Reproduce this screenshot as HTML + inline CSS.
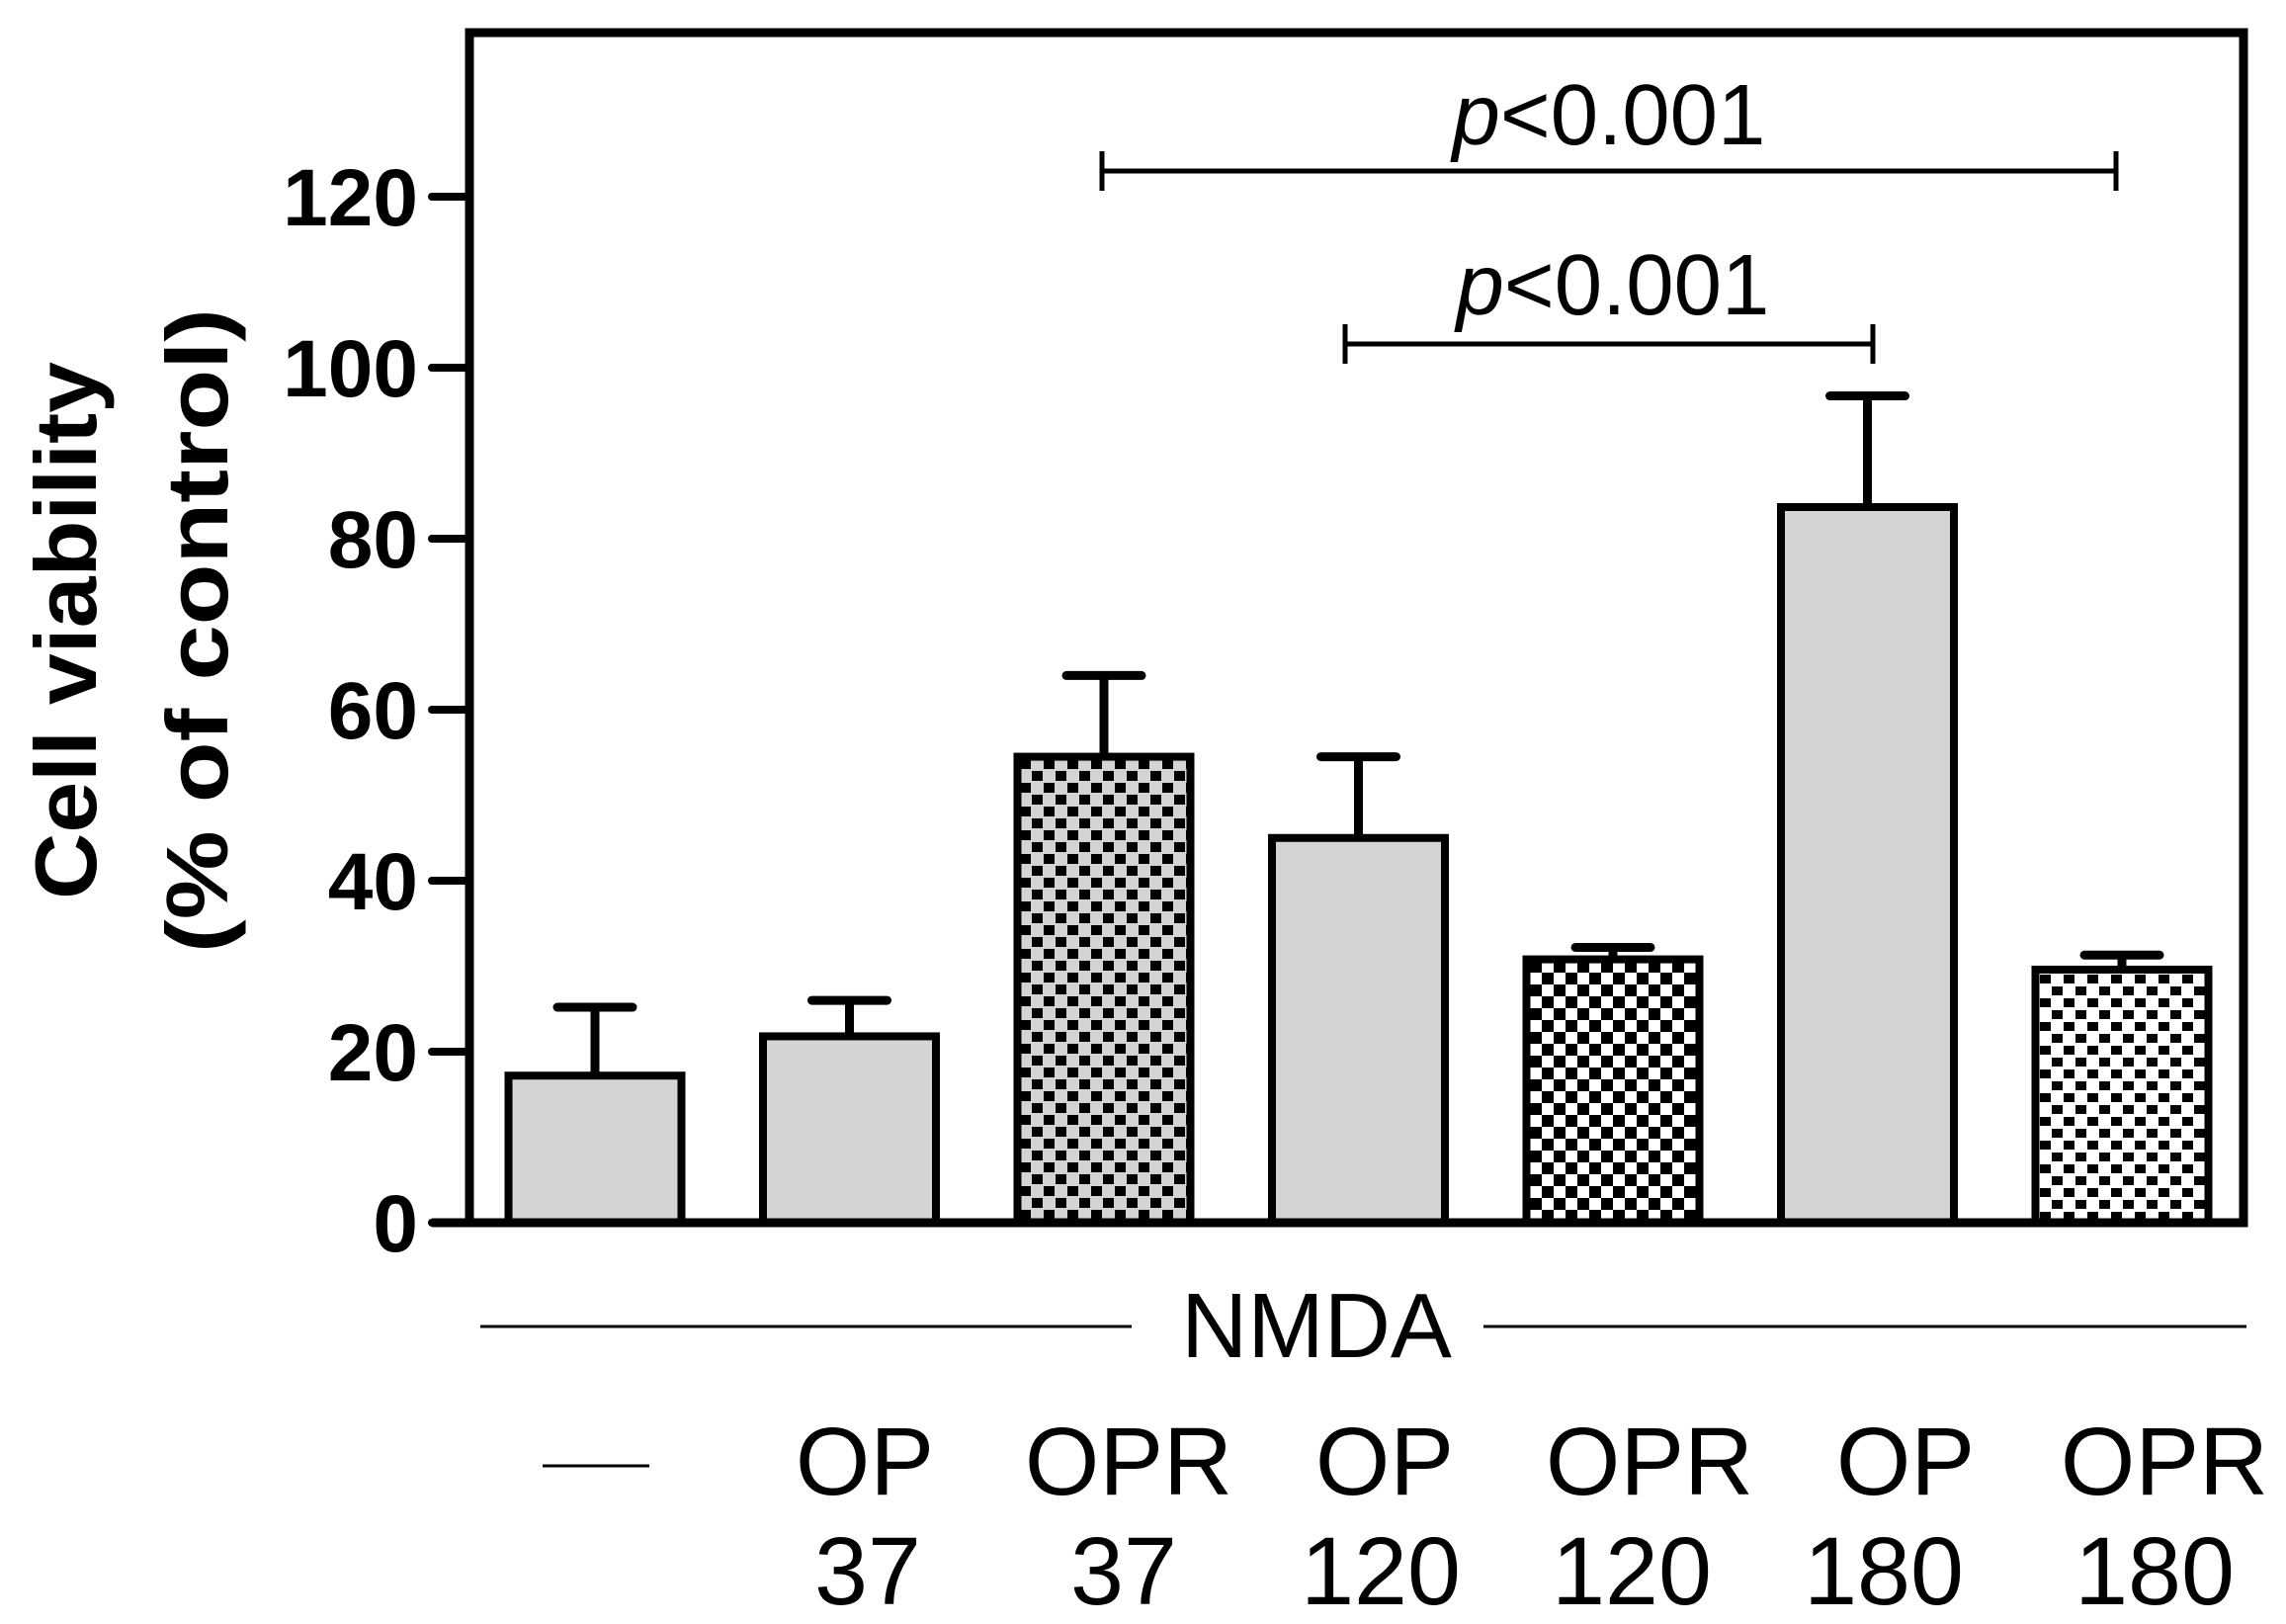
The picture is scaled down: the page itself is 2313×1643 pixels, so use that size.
<!DOCTYPE html>
<html><head><meta charset="utf-8"><style>
html,body{margin:0;padding:0;background:#fff}
svg{display:block}
</style></head><body>
<svg id="chart" width="2313" height="1643" viewBox="0 0 2313 1643" xmlns="http://www.w3.org/2000/svg" font-family="Liberation Sans, Arial, sans-serif">
<defs>
<pattern id="patA" width="24" height="24" patternUnits="userSpaceOnUse">
<rect width="24" height="24" fill="#d4d4d4"/>
<rect x="0" y="0" width="11" height="10" fill="#000"/>
<rect x="12" y="12" width="11" height="10" fill="#000"/>
</pattern>
<pattern id="patB" width="24" height="24" patternUnits="userSpaceOnUse">
<rect width="24" height="24" fill="#fff"/>
<rect x="0" y="0" width="12" height="12" fill="#000"/>
<rect x="12" y="12" width="12" height="12" fill="#000"/>
</pattern>
<pattern id="patC" width="24" height="24" patternUnits="userSpaceOnUse">
<rect width="24" height="24" fill="#fff"/>
<rect x="0" y="2" width="11" height="9" fill="#000"/>
<rect x="12" y="14" width="11" height="9" fill="#000"/>
</pattern>
</defs>
<g id="plot"></g>
</svg>
<script>
const categories = ["—", "OP 37", "OPR 37", "OP 120", "OPR 120", "OP 180", "OPR 180"];
const means = [17.2, 21.8, 54.5, 45.0, 30.8, 83.7, 29.6];
const errors = [8.0, 4.2, 9.5, 9.5, 1.4, 13.0, 1.7];
const fills = ["#d4d4d4", "#d4d4d4", "url(#patA)", "#d4d4d4", "url(#patB)", "#d4d4d4", "url(#patC)"];
const yTicks = [0, 20, 40, 60, 80, 100, 120];

const NS = "http://www.w3.org/2000/svg";
const g = document.getElementById('plot');
const X0 = 475, X1 = 2270, Y0 = 1237, PXU = (1237 - 199) / 120;
function y(v){ return Y0 - v * PXU; }
function xc(i){ return 602 + i * 257.5; }
const BW = 175;
function mk(tag, attrs, parent){
  const e = document.createElementNS(NS, tag);
  for (const k in attrs) e.setAttribute(k, attrs[k]);
  (parent || g).appendChild(e);
  return e;
}
let f = mk('rect', {x: X0, y: 33, width: X1 - X0, height: Y0 - 33, fill: 'none', stroke: '#000', 'stroke-width': 9});


yTicks.forEach(t => {
  let l = mk('line', {x1: 437, x2: X0, y1: y(t), y2: y(t), stroke: '#000', 'stroke-width': 8, 'stroke-linecap': 'round'});
  
  
  let tx = mk('text', {x: 423, y: y(t) + 29, 'text-anchor': 'end', 'font-size': 82, 'font-weight': 'bold'});
  tx.textContent = t;
  
  
});
const yt = mk('text', {transform: 'translate(97,638) rotate(-90)', 'text-anchor': 'middle', 'font-size': 88, 'font-weight': 'bold', textLength: 544, lengthAdjust: 'spacingAndGlyphs'});
yt.textContent = 'Cell viability';


const yt2 = mk('text', {transform: 'translate(230,638) rotate(-90)', 'text-anchor': 'middle', 'font-size': 88, 'font-weight': 'bold', textLength: 652, lengthAdjust: 'spacingAndGlyphs'});
yt2.textContent = '(% of control)';


means.forEach((m, i) => {
  const cx = xc(i);
  let e = mk('line', {x1: cx, x2: cx, y1: y(m), y2: y(m + errors[i]), stroke: '#000', 'stroke-width': 9});
  
  
  let c = mk('line', {x1: cx - 38, x2: cx + 38, y1: y(m + errors[i]), y2: y(m + errors[i]), stroke: '#000', 'stroke-width': 9, 'stroke-linecap': 'round'});
  
  
  let b = mk('rect', {x: cx - BW / 2, y: y(m), width: BW, height: Y0 - y(m), fill: fills[i], stroke: '#000', 'stroke-width': 8});
  
  
});
let ax = mk('line', {x1: 437, x2: X1 + 4, y1: Y0, y2: Y0, stroke: '#000', 'stroke-width': 9});


function bracket(x1, x2, yy, tx, ty, name){
  const gg = mk('g', {});
  
  
  mk('line', {x1: x1, x2: x2, y1: yy, y2: yy, stroke: '#000', 'stroke-width': 5}, gg);
  mk('line', {x1: x1, x2: x1, y1: yy - 20, y2: yy + 20, stroke: '#000', 'stroke-width': 5}, gg);
  mk('line', {x1: x2, x2: x2, y1: yy - 20, y2: yy + 20, stroke: '#000', 'stroke-width': 5}, gg);
  const t = mk('text', {x: tx, y: ty, 'text-anchor': 'middle', 'font-size': 87}, gg);
  t.innerHTML = '<tspan font-style="italic">p</tspan>&lt;0.001';
}
bracket(1115, 2141, 173, 1628, 146, 'significance-bracket-top');
bracket(1361, 1895, 348, 1632, 318, 'significance-bracket-inner');
const nm = mk('g', {});


mk('line', {x1: 486, x2: 1145, y1: 1342, y2: 1342, stroke: '#000', 'stroke-width': 3}, nm);
mk('line', {x1: 1501, x2: 2273, y1: 1342, y2: 1342, stroke: '#000', 'stroke-width': 3}, nm);
const nt = mk('text', {x: 1332, y: 1373, 'text-anchor': 'middle', 'font-size': 93}, nm);
nt.textContent = 'NMDA';
const lx1 = [875, 1142, 1401, 1669, 1928, 2190];
const lx2 = [878, 1137, 1397, 1651, 1906, 2180];
let d = mk('line', {x1: 549, x2: 657, y1: 1483, y2: 1483, stroke: '#000', 'stroke-width': 3});


categories.slice(1).forEach((c, i) => {
  const parts = c.split(' ');
  const t1 = mk('text', {x: lx1[i], y: 1512, 'text-anchor': 'middle', 'font-size': 97});
  t1.textContent = parts[0];
  
  
  const t2 = mk('text', {x: lx2[i], y: 1623, 'text-anchor': 'middle', 'font-size': 97});
  t2.textContent = parts[1];
  
  
});
</script>
</body></html>
